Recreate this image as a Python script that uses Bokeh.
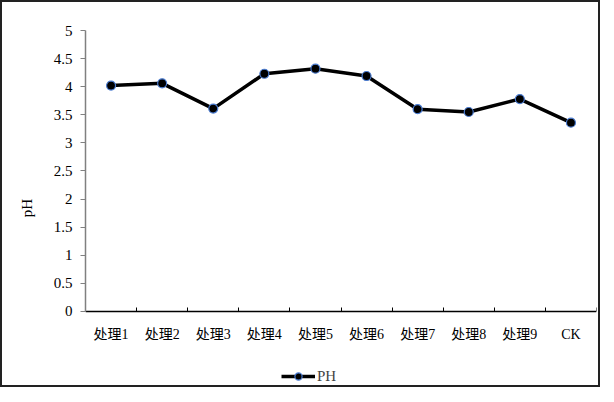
from bokeh.plotting import figure
from bokeh.models import ColumnDataSource, LinearAxis, FixedTicker, Range1d, Legend, LegendItem
from bokeh.embed import file_html
from bokeh.resources import INLINE

categories = ["处理1", "处理2", "处理3", "处理4", "处理5", "处理6", "处理7", "处理8", "处理9", "CK"]
ph_values = [4.02, 4.06, 3.61, 4.23, 4.32, 4.19, 3.60, 3.55, 3.78, 3.36]
y_ticks = [0, 0.5, 1, 1.5, 2, 2.5, 3, 3.5, 4, 4.5, 5]
y_tick_labels = ["0", "0.5", "1", "1.5", "2", "2.5", "3", "3.5", "4", "4.5", "5"]

xs = [i + 0.5 for i in range(len(categories))]
src = ColumnDataSource(dict(x=xs, y=ph_values, cat=categories))

SERIF = "Liberation Serif"
CJK = "Liberation Serif, Noto Sans CJK SC"

# frame extends below y=0 so the legend can sit inside it
p = figure(frame_width=511, frame_height=355, output_backend="svg", toolbar_location=None,
           x_range=Range1d(0, len(categories)), y_range=Range1d(-1.317, 5),
           x_axis_type=None, y_axis_type=None,
           min_border_left=83, min_border_right=2, min_border_top=28, min_border_bottom=0)
p.grid.visible = False
p.outline_line_color = None
p.border_fill_color = "white"
p.background_fill_color = "white"
p.styles = {"border": "2px solid #222222"}

# y axis
yax = LinearAxis(ticker=FixedTicker(ticks=y_ticks), bounds=(0, 5),
                 major_label_overrides={t: l for t, l in zip(y_ticks, y_tick_labels)})
yax.axis_line_color = "#808080"
yax.axis_line_width = 1.5
yax.major_tick_line_color = "#808080"
yax.major_tick_out = 5
yax.major_tick_in = 0
yax.minor_tick_line_color = None
yax.major_label_text_font = SERIF
yax.major_label_text_font_size = "15px"
yax.major_label_text_color = "black"
yax.major_label_standoff = 8
yax.axis_label = "pH"
yax.axis_label_text_font = SERIF
yax.axis_label_text_font_style = "normal"
yax.axis_label_text_font_size = "15px"
yax.axis_label_text_color = "black"
yax.axis_label_standoff = 16
p.add_layout(yax, "left")

# x axis at y=0: labels at category centres, tick marks at category boundaries
xax = LinearAxis(ticker=FixedTicker(ticks=xs, minor_ticks=list(range(len(categories) + 1))),
                 fixed_location=0,
                 major_label_overrides={x: c for x, c in zip(xs, categories)})
xax.axis_line_color = "black"
xax.axis_line_width = 1.5
xax.major_tick_line_color = None
xax.major_tick_in = 0
xax.major_tick_out = 0
xax.minor_tick_line_color = "black"
xax.minor_tick_line_width = 1
xax.minor_tick_in = 4
xax.minor_tick_out = 0
xax.major_label_text_font = CJK
xax.major_label_text_font_size = "14px"
xax.major_label_text_color = "black"
xax.major_label_standoff = 16
p.add_layout(xax, "below")

line = p.line("x", "y", source=src, line_color="black", line_width=3.5)
pts = p.scatter("x", "y", source=src, size=9, fill_color="black",
                line_color="#4a7bd0", line_width=1.2)

legend = Legend(items=[LegendItem(label="PH", renderers=[line, pts])],
                location=(196, 0), orientation="horizontal",
                label_text_font=SERIF, label_text_font_size="15px",
                glyph_width=34, glyph_height=18, label_standoff=2,
                padding=2, margin=0, spacing=0,
                border_line_color=None, background_fill_alpha=0)
p.add_layout(legend, "center")

open("out.html", "w").write(file_html(p, INLINE))
